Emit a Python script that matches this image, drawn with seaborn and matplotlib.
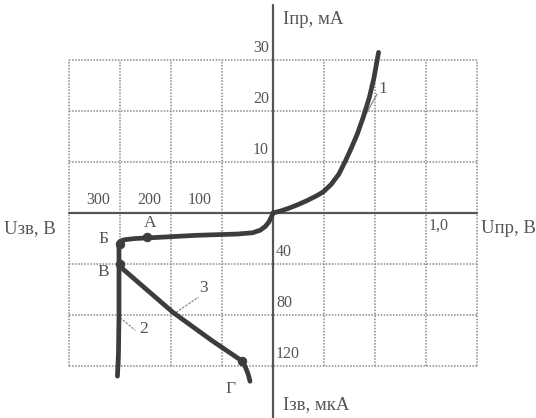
import numpy as np
import pandas as pd
import seaborn as sns
import matplotlib.pyplot as plt

# Forward branch (curve 1): U_пр, V  /  I_пр, mA
u_fwd = [0.0, 0.05, 0.10, 0.16, 0.22, 0.28, 0.327, 0.38, 0.43, 0.47, 0.51, 0.55, 0.59, 0.63, 0.66, 0.69]
i_fwd = [0.0, 0.4, 0.9, 1.6, 2.4, 3.3, 4.1, 5.6, 7.6, 10.0, 12.6, 15.4, 18.8, 22.7, 26.5, 31.5]

# Reverse branch up to breakdown point Б: U_зв, V  /  I_зв, µA
u_rev = [0, 3, 8, 15, 25, 40, 70, 150, 220, 270, 292, 300, 302]
i_rev = [0, 3, 7, 10.5, 13.5, 15.5, 16.5, 17.5, 19.0, 20.0, 21.0, 22.2, 23.5]

# Curve 2 (breakdown, vertical)
u_2 = [302, 302, 302, 303, 305]
i_2 = [23.5, 40, 80, 110, 128]

# Curve 3 (from В to Г)
u_3 = [300, 196, 120, 61, 54, 49, 45]
i_3 = [42, 78, 100, 116, 121, 126, 132]

# marked points А, Б, В, Г
pt_names = ["А", "Б", "В", "Г"]
pt_u = [247, 300, 300, 61]
pt_i = [19.0, 24.5, 40.0, 116.0]

# axis tick labels
up_ticks = [10, 20, 30]          # mA
down_ticks = [40, 80, 120]       # µA
left_ticks = [100, 200, 300]     # V
right_tick = 1.0                 # V

# scales: one grid cell = 10 mA / 40 µA / 100 V / 1/3 V
def fx(u):
    return np.asarray(u, float) * 3.0

def rx(u):
    return -np.asarray(u, float) / 100.0

def fy(i):
    return np.asarray(i, float) / 10.0

def ry(i):
    return -np.asarray(i, float) / 40.0

sns.set_style("white")
plt.rcParams["font.family"] = ["Liberation Serif", "DejaVu Serif"]

fig = plt.figure(figsize=(5.36, 4.18), dpi=100)
ax = fig.add_axes([0, 0, 1, 1])
cell = 51.0
ax.set_xlim(-273 / cell, (536 - 273) / cell)
ax.set_ylim((213 - 418) / cell, 213 / cell)
ax.axis("off")

grid_col = "#8a8a8a"
for gx in range(-4, 5):
    if gx != 0:
        ax.plot([gx, gx], [-3, 3], ls=(0, (1, 1)), color=grid_col, lw=1.1, zorder=1)
for gy in range(-3, 4):
    if gy != 0:
        ax.plot([-4, 4], [gy, gy], ls=(0, (1, 1)), color=grid_col, lw=1.1, zorder=1)

# axes
ax.plot([0, 0], [213 / cell - 0.1, (213 - 418) / cell], color="#555555", lw=1.6, zorder=2)
ax.plot([-4, 4], [0, 0], color="#555555", lw=1.6, zorder=2)

curve_col = "#3c3c3c"
df1 = pd.DataFrame({"x": fx(u_fwd), "y": fy(i_fwd)})
df0 = pd.DataFrame({"x": rx(u_rev), "y": ry(i_rev)})
df2 = pd.DataFrame({"x": rx(u_2), "y": ry(i_2)})
df3 = pd.DataFrame({"x": rx(u_3), "y": ry(i_3)})
for d in (df1, df0, df2, df3):
    sns.lineplot(data=d, x="x", y="y", sort=False, estimator=None,
                 color=curve_col, lw=3.4, ax=ax, zorder=3)

dfp = pd.DataFrame({"x": rx(pt_u), "y": ry(pt_i)})
sns.scatterplot(data=dfp, x="x", y="y", s=40, color=curve_col,
                edgecolor=curve_col, ax=ax, zorder=4)

txt = "#555555"
fs = 11.5
for v in up_ticks:
    ax.text(-0.08, fy(v) + 0.08, str(v), ha="right", va="bottom", fontsize=fs, color=txt)
for v in down_ticks:
    ax.text(0.06, ry(v) + 0.08, str(v), ha="left", va="bottom", fontsize=fs, color=txt)
for v in left_ticks:
    ax.text(rx(v) - 0.2, 0.1, str(v), ha="right", va="bottom", fontsize=fs, color=txt)
ax.text(fx(right_tick) + 0.05, -0.1, "1,0", ha="left", va="top", fontsize=fs, color=txt)

afs = 13.5
ax.text(0.2, 3.8, "Iпр, мА", ha="left", va="center", fontsize=afs, color=txt)
ax.text(0.2, -3.75, "Iзв, мкА", ha="left", va="center", fontsize=afs, color=txt)
ax.text(-5.27, -0.3, "Uзв, В", ha="left", va="center", fontsize=afs, color=txt)
ax.text(4.08, -0.3, "Uпр, В", ha="left", va="center", fontsize=afs, color=txt)

# point letters
ax.text(rx(pt_u[0]) + 0.05, ry(pt_i[0]) + 0.12, "А", ha="center", va="bottom", fontsize=12.5, color=txt)
ax.text(rx(pt_u[1]) - 0.22, ry(pt_i[1]) + 0.1, "Б", ha="right", va="center", fontsize=12.5, color=txt)
ax.text(rx(pt_u[2]) - 0.22, ry(pt_i[2]) - 0.15, "В", ha="right", va="center", fontsize=12.5, color=txt)
ax.text(rx(pt_u[3]) - 0.12, ry(pt_i[3]) - 0.4, "Г", ha="right", va="top", fontsize=12.5, color=txt)

# curve numbers with leaders
ax.plot([fx(0.61), fx(0.68)], [fy(19.5), fy(23.3)], color=grid_col, lw=0.9, zorder=2)
ax.text(fx(0.69), fy(24.3), "1", ha="left", va="center", fontsize=12.5, color=txt)
ax.plot([rx(300), rx(270)], [ry(82), ry(92)], color=grid_col, lw=0.9, ls=(0, (2, 1)), zorder=2)
ax.text(rx(262), ry(91), "2", ha="left", va="center", fontsize=12.5, color=txt)
ax.plot([rx(190), rx(146)], [ry(78), ry(66)], color=grid_col, lw=0.9, ls=(0, (2, 1)), zorder=2)
ax.text(rx(144), ry(59), "3", ha="left", va="center", fontsize=12.5, color=txt)

fig.savefig("out.png", dpi=100)
